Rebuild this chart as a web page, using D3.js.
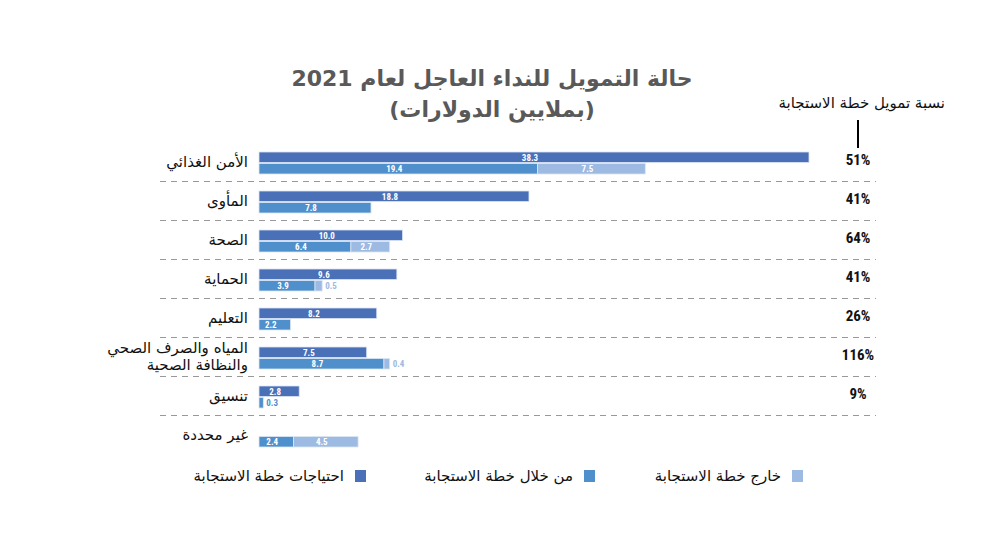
<!DOCTYPE html>
<html lang="ar">
<head>
<meta charset="utf-8">
<script src="https://cdn.jsdelivr.net/npm/d3@7"></script>
<style>
  html,body{margin:0;padding:0;background:#fff;}
  svg{display:block;}
</style>
</head>
<body>
<svg id="chart" width="1000" height="535"></svg>
<script>
const categories = [
  ["الأمن الغذائي"],
  ["المأوى"],
  ["الصحة"],
  ["الحماية"],
  ["التعليم"],
  ["المياه والصرف الصحي", "والنظافة الصحية"],
  ["تنسيق"],
  ["غير محددة"]
];
const needs   = [38.3, 18.8, 10.0, 9.6, 8.2, 7.5, 2.8, null];
const inPlan  = [19.4, 7.8, 6.4, 3.9, 2.2, 8.7, 0.3, 2.4];
const outside = [7.5, 0, 2.7, 0.5, 0, 0.4, 0, 4.5];
const percents = ["51%", "41%", "64%", "41%", "26%", "116%", "9%", ""];
const legendLabels = ["احتياجات خطة الاستجابة", "من خلال خطة الاستجابة", "خارج خطة الاستجابة"];
const titleLines = ["حالة التمويل للنداء العاجل لعام 2021", "(بملايين الدولارات)"];
const pctHeader = "نسبة تمويل خطة الاستجابة";

const colors = {needs: "#4a70b8", inPlan: "#4f8fcc", outside: "#9cbae2"};

const svg = d3.select("#chart");
const arFont = '"DejaVu Sans","Noto Sans",sans-serif';
const numFont = '"Liberation Sans Narrow","Roboto Condensed","Roboto",sans-serif';

const idx = categories.map((d, i) => i);
const y = d3.scaleBand().domain(idx).range([142, 454]).paddingInner(0).paddingOuter(0);
const x = d3.scaleLinear().domain([0, 38.3]).range([259, 809]);
const sub = d3.scaleBand().domain(["needs", "plan"]).range([10, 32]).paddingInner(0.08);

// Title
svg.append("g").selectAll("text").data(titleLines).join("text")
  .attr("x", 492).attr("y", (d, i) => 86 + i * 31)
  .attr("text-anchor", "middle").attr("direction", "rtl")
  .attr("font-family", arFont).attr("font-weight", "bold").attr("font-size", 22)
  .attr("fill", "#595959").text(d => d);

// Percent header
svg.append("text").attr("x", 945).attr("y", 108)
  .attr("direction", "rtl").attr("text-anchor", "start")
  .attr("font-family", arFont).attr("font-size", 15).attr("fill", "#111")
  .text(pctHeader);
svg.append("line").attr("x1", 858).attr("x2", 858).attr("y1", 120).attr("y2", 148)
  .attr("stroke", "#000").attr("stroke-width", 2);

// Dividers
svg.append("g").selectAll("line").data(idx.slice(1)).join("line")
  .attr("x1", 160).attr("x2", 876)
  .attr("y1", d => y(d) + 0.5).attr("y2", d => y(d) + 0.5)
  .attr("stroke", "#999").attr("stroke-width", 1).attr("stroke-dasharray", "6,5");

// Category labels
const lab = svg.append("g").selectAll("text").data(idx).join("text")
  .attr("x", 248)
  .attr("y", d => y(d) + y.bandwidth() / 2 + 5 - (categories[d].length - 1) * 8.5)
  .attr("direction", "rtl").attr("text-anchor", "start")
  .attr("font-family", arFont).attr("font-size", 15).attr("fill", "#111");
lab.each(function(d) {
  d3.select(this).selectAll("tspan").data(categories[d]).join("tspan")
    .attr("x", 248).attr("dy", (t, j) => j === 0 ? 0 : 17).text(t => t);
});

// Bars
const segs = [];
idx.forEach(i => {
  if (needs[i] != null) segs.push({i, row: "needs", x0: 0, v: needs[i], c: colors.needs, lc: colors.needs});
  segs.push({i, row: "plan", x0: 0, v: inPlan[i], c: colors.inPlan, lc: colors.inPlan});
  if (outside[i] > 0) segs.push({i, row: "plan", x0: inPlan[i], v: outside[i], c: colors.outside, lc: colors.outside});
});

const bg = svg.append("g");
bg.selectAll("rect").data(segs).join("rect")
  .attr("x", d => x(d.x0))
  .attr("y", d => y(d.i) + sub(d.row))
  .attr("width", d => Math.max(1.5, x(d.x0 + d.v) - x(d.x0)))
  .attr("height", sub.bandwidth())
  .attr("fill", d => d.c)
  .attr("stroke", "#dde6f3").attr("stroke-width", 0.8);

bg.selectAll("text").data(segs).join("text")
  .attr("x", d => {
    const w = x(d.x0 + d.v) - x(d.x0);
    return w < 18 ? x(d.x0 + d.v) + 3 : (x(d.x0) + x(d.x0 + d.v)) / 2 - 4;
  })
  .attr("text-anchor", d => (x(d.x0 + d.v) - x(d.x0)) < 18 ? "start" : "middle")
  .attr("y", d => y(d.i) + sub(d.row) + sub.bandwidth() / 2 + 3.5)
  .attr("font-family", numFont).attr("font-weight", "bold").attr("font-size", 9)
  .attr("fill", d => (x(d.x0 + d.v) - x(d.x0)) < 18 ? d.lc : "#fff")
  .text(d => d3.format(".1f")(d.v));

// Percent values
svg.append("g").selectAll("text").data(idx.filter(i => percents[i])).join("text")
  .attr("x", 858).attr("y", d => y(d) + y.bandwidth() / 2 + 3.5)
  .attr("text-anchor", "middle")
  .attr("font-family", numFont).attr("font-weight", "bold").attr("font-size", 15)
  .attr("fill", "#111").text(d => percents[d]);

// Legend
const legend = [
  {label: legendLabels[0], c: colors.needs, x: 366},
  {label: legendLabels[1], c: colors.inPlan, x: 595},
  {label: legendLabels[2], c: colors.outside, x: 803}
];
const lg = svg.append("g").selectAll("g").data(legend).join("g");
lg.append("rect").attr("x", d => d.x - 11).attr("y", 470).attr("width", 11).attr("height", 12)
  .attr("fill", d => d.c);
lg.append("text").attr("x", d => d.x - 22).attr("y", 481)
  .attr("direction", "rtl").attr("text-anchor", "start")
  .attr("font-family", arFont).attr("font-size", 15).attr("fill", "#111")
  .text(d => d.label);
</script>
</body>
</html>
